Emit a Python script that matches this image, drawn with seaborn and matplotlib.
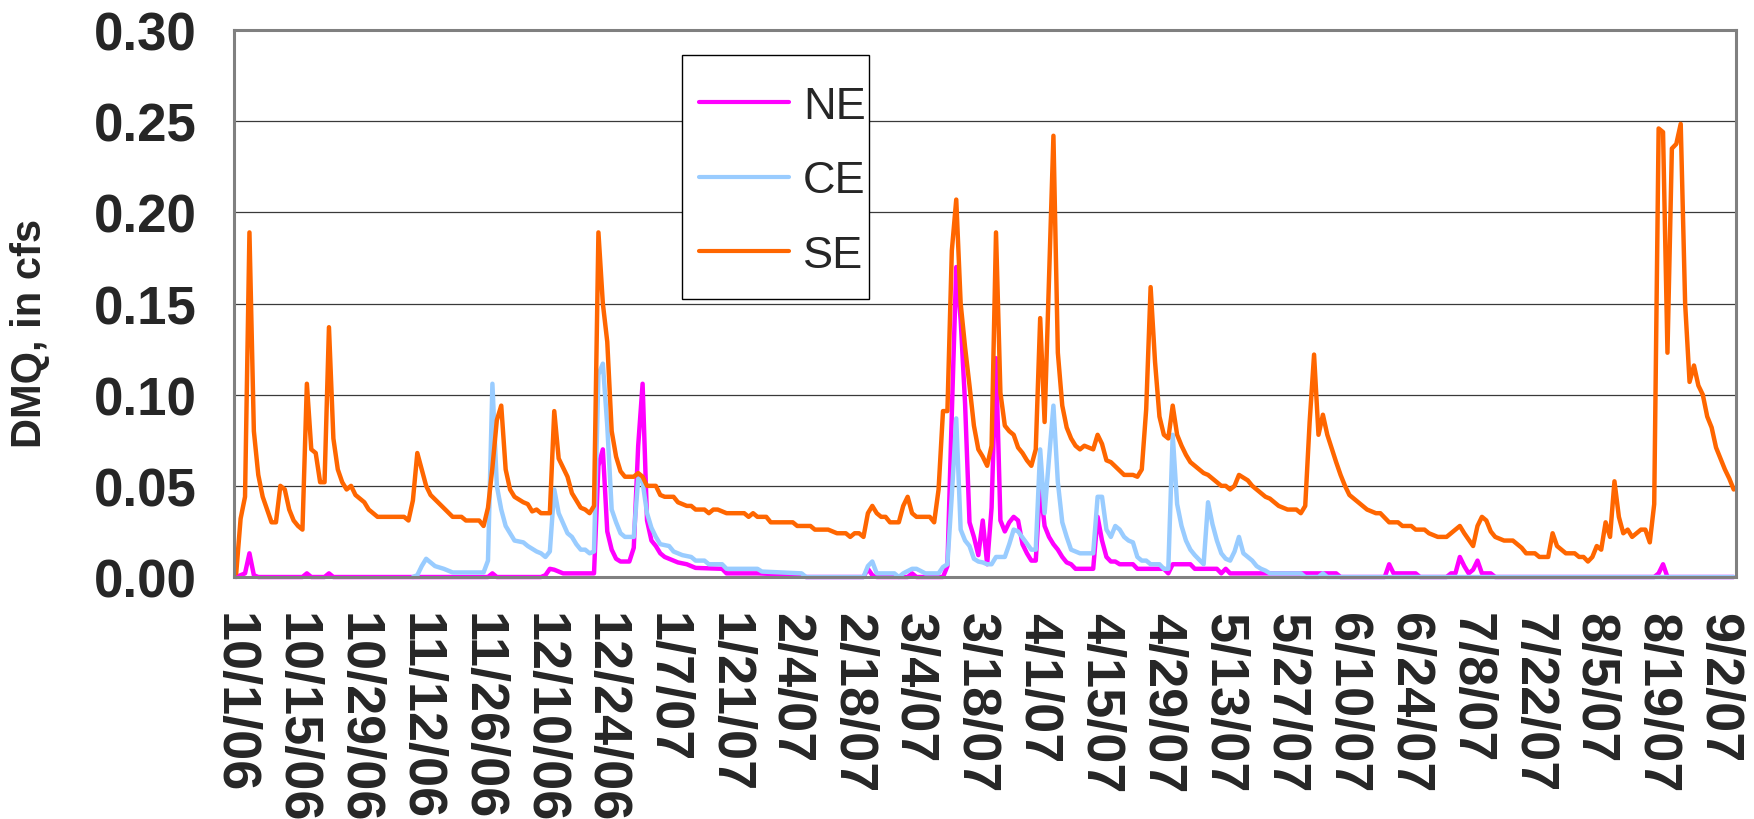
import numpy as np
import pandas as pd
import matplotlib
matplotlib.use('Agg')
import matplotlib.pyplot as plt
import matplotlib.dates as mdates
from matplotlib.patches import Rectangle
from matplotlib.ticker import FormatStrFormatter
import seaborn as sns

# daily DMQ values, day = days after 10/1/06
start = pd.Timestamp('2006-10-01')

ne_days = [0, 2, 3, 4, 5, 15, 16, 17, 20, 21, 22, 57, 58, 59, 69, 70, 71, 72, 73, 74,
           81, 82, 83, 84, 85, 86, 87, 89, 90, 91, 92, 93, 94, 95, 96, 97, 99, 100, 102, 104,
           110, 111, 118, 128, 129, 142, 143, 144, 145, 152, 153, 154, 160, 161, 162, 163, 164, 165, 166, 167,
           168, 169, 170, 171, 172, 173, 174, 175, 176, 177, 178, 179, 180, 181, 182, 183, 184, 185, 186, 187,
           188, 189, 190, 194, 195, 196, 197, 198, 199, 200, 203, 204, 210, 211, 212, 216, 217, 222, 223, 224,
           225, 249, 250, 260, 261, 262, 267, 268, 274, 275, 276, 277, 278, 279, 280, 281, 282, 284, 285, 321,
           322, 323, 324, 339]
ne_vals = [0.0, 0.002, 0.013, 0.001, 0.0, 0.0, 0.002, 0.0, 0.0, 0.002, 0.0, 0.0, 0.002, 0.0, 0.0, 0.001, 0.0045, 0.004, 0.003, 0.002,
           0.002, 0.061, 0.070, 0.025, 0.015, 0.010, 0.0085, 0.0085, 0.016, 0.072, 0.106, 0.031, 0.020, 0.017, 0.013, 0.011, 0.009, 0.008, 0.007, 0.005,
           0.0045, 0.002, 0.002, 0.001, 0.0, 0.0, 0.0045, 0.001, 0.0, 0.0, 0.002, 0.0, 0.0, 0.006, 0.090, 0.170, 0.141, 0.095, 0.030, 0.022,
           0.012, 0.031, 0.007, 0.038, 0.120, 0.031, 0.025, 0.030, 0.033, 0.031, 0.018, 0.013, 0.009, 0.009, 0.050, 0.028, 0.022, 0.018, 0.015, 0.011,
           0.008, 0.007, 0.0045, 0.0045, 0.033, 0.020, 0.011, 0.0085, 0.0085, 0.007, 0.007, 0.0045, 0.0045, 0.002, 0.007, 0.007, 0.0045, 0.0045, 0.002, 0.0045,
           0.002, 0.002, 0.0, 0.0, 0.007, 0.002, 0.002, 0.0, 0.0, 0.002, 0.002, 0.011, 0.006, 0.002, 0.004, 0.009, 0.002, 0.002, 0.0, 0.0,
           0.002, 0.007, 0.0, 0.0]

ce_days = [40, 41, 42, 43, 44, 45, 47, 49, 56, 57, 58, 59, 60, 61, 63, 65, 66, 68, 69, 70,
           71, 72, 73, 75, 76, 77, 78, 79, 80, 81, 82, 83, 84, 85, 86, 87, 88, 90, 91, 92,
           93, 94, 95, 96, 98, 99, 101, 103, 104, 106, 107, 110, 111, 118, 119, 128, 129, 142, 143, 144,
           145, 149, 150, 151, 153, 154, 156, 159, 160, 161, 162, 163, 164, 165, 166, 167, 168, 169, 170, 171,
           172, 174, 175, 176, 177, 180, 181, 182, 183, 184, 185, 186, 187, 188, 189, 191, 194, 195, 196, 197,
           198, 199, 200, 201, 202, 203, 204, 205, 206, 207, 209, 210, 211, 212, 213, 214, 215, 216, 217, 219,
           220, 221, 222, 223, 224, 225, 226, 227, 228, 230, 231, 232, 233, 234, 241, 242, 245, 246, 247, 339]
ce_vals = [0.0, 0.001, 0.006, 0.010, 0.008, 0.006, 0.0045, 0.0025, 0.0025, 0.009, 0.106, 0.050, 0.037, 0.028, 0.020, 0.019, 0.017, 0.014, 0.013, 0.011,
           0.014, 0.048, 0.035, 0.024, 0.022, 0.018, 0.015, 0.015, 0.013, 0.014, 0.111, 0.117, 0.083, 0.037, 0.030, 0.024, 0.022, 0.022, 0.054, 0.052,
           0.035, 0.027, 0.022, 0.018, 0.017, 0.014, 0.012, 0.011, 0.009, 0.009, 0.007, 0.007, 0.0045, 0.0045, 0.003, 0.002, 0.0, 0.0, 0.006, 0.0085,
           0.002, 0.002, 0.0, 0.002, 0.0045, 0.0045, 0.002, 0.002, 0.0055, 0.007, 0.045, 0.087, 0.026, 0.020, 0.017, 0.010, 0.0085, 0.008, 0.007, 0.007,
           0.011, 0.011, 0.018, 0.026, 0.025, 0.015, 0.015, 0.070, 0.035, 0.065, 0.094, 0.052, 0.030, 0.022, 0.015, 0.013, 0.013, 0.044, 0.044, 0.026,
           0.022, 0.028, 0.026, 0.022, 0.020, 0.019, 0.011, 0.009, 0.009, 0.007, 0.007, 0.0045, 0.0045, 0.078, 0.040, 0.028, 0.020, 0.015, 0.012, 0.007,
           0.041, 0.029, 0.020, 0.013, 0.010, 0.009, 0.014, 0.022, 0.013, 0.009, 0.006, 0.0045, 0.0035, 0.002, 0.002, 0.0, 0.0, 0.002, 0.0, 0.0]

se_days = [0, 1, 2, 3, 4, 5, 6, 7, 8, 9, 10, 11, 12, 13, 14, 15, 16, 17, 18, 19,
           20, 21, 22, 23, 24, 25, 26, 27, 28, 29, 30, 31, 32, 38, 39, 40, 41, 42, 43, 44,
           49, 51, 52, 55, 56, 57, 58, 59, 60, 61, 62, 63, 65, 66, 67, 68, 69, 71, 72, 73,
           75, 76, 77, 78, 79, 80, 81, 82, 83, 84, 85, 86, 87, 88, 90, 91, 92, 93, 95, 96,
           97, 99, 100, 102, 103, 104, 106, 107, 108, 109, 111, 115, 116, 117, 118, 120, 121, 126, 127, 130,
           131, 134, 136, 138, 139, 140, 141, 142, 143, 144, 145, 146, 147, 148, 150, 151, 152, 153, 154, 157,
           158, 159, 160, 161, 162, 163, 164, 165, 166, 167, 168, 169, 170, 171, 172, 173, 174, 175, 176, 177,
           178, 179, 180, 181, 182, 183, 184, 185, 186, 187, 188, 189, 190, 191, 192, 194, 195, 196, 197, 198,
           201, 203, 204, 205, 206, 207, 208, 209, 210, 211, 212, 213, 214, 215, 216, 219, 220, 221, 223, 224,
           225, 226, 227, 229, 230, 231, 233, 234, 236, 238, 240, 241, 242, 243, 244, 245, 246, 247, 249, 250,
           251, 252, 254, 256, 258, 259, 261, 263, 264, 266, 267, 269, 270, 272, 274, 277, 278, 280, 281, 282,
           283, 284, 285, 287, 289, 291, 292, 294, 295, 297, 298, 299, 301, 303, 304, 305, 306, 307, 308, 309,
           310, 311, 312, 313, 314, 315, 316, 317, 318, 319, 320, 321, 322, 323, 324, 325, 326, 327, 328, 329,
           330, 331, 332, 333, 334, 335, 336, 337, 338, 339]
se_vals = [0.002, 0.032, 0.044, 0.189, 0.080, 0.056, 0.044, 0.037, 0.030, 0.030, 0.050, 0.048, 0.037, 0.031, 0.028, 0.026, 0.106, 0.070, 0.068, 0.052,
           0.052, 0.137, 0.076, 0.059, 0.052, 0.048, 0.050, 0.045, 0.043, 0.041, 0.037, 0.035, 0.033, 0.033, 0.031, 0.042, 0.068, 0.059, 0.050, 0.045,
           0.033, 0.033, 0.031, 0.031, 0.028, 0.038, 0.060, 0.086, 0.094, 0.059, 0.048, 0.044, 0.041, 0.040, 0.036, 0.037, 0.035, 0.035, 0.091, 0.065,
           0.055, 0.046, 0.042, 0.038, 0.037, 0.035, 0.039, 0.189, 0.150, 0.129, 0.080, 0.066, 0.058, 0.055, 0.055, 0.057, 0.055, 0.050, 0.050, 0.045,
           0.044, 0.044, 0.041, 0.039, 0.039, 0.037, 0.037, 0.035, 0.037, 0.037, 0.035, 0.035, 0.033, 0.035, 0.033, 0.033, 0.030, 0.030, 0.028, 0.028,
           0.026, 0.026, 0.024, 0.024, 0.022, 0.024, 0.024, 0.022, 0.035, 0.039, 0.035, 0.033, 0.033, 0.030, 0.030, 0.039, 0.044, 0.035, 0.033, 0.033,
           0.030, 0.048, 0.091, 0.091, 0.179, 0.207, 0.150, 0.126, 0.105, 0.083, 0.070, 0.066, 0.061, 0.072, 0.189, 0.101, 0.083, 0.080, 0.078, 0.071,
           0.068, 0.064, 0.061, 0.070, 0.142, 0.085, 0.163, 0.242, 0.123, 0.094, 0.082, 0.076, 0.072, 0.070, 0.072, 0.070, 0.078, 0.073, 0.064, 0.063,
           0.056, 0.056, 0.055, 0.059, 0.092, 0.159, 0.118, 0.088, 0.078, 0.076, 0.094, 0.078, 0.072, 0.067, 0.063, 0.057, 0.056, 0.054, 0.050, 0.050,
           0.048, 0.050, 0.056, 0.053, 0.050, 0.048, 0.044, 0.043, 0.039, 0.037, 0.037, 0.035, 0.039, 0.085, 0.122, 0.078, 0.089, 0.078, 0.063, 0.056,
           0.050, 0.045, 0.041, 0.037, 0.035, 0.035, 0.030, 0.030, 0.028, 0.028, 0.026, 0.026, 0.024, 0.022, 0.022, 0.028, 0.024, 0.017, 0.028, 0.033,
           0.031, 0.025, 0.022, 0.020, 0.020, 0.016, 0.013, 0.013, 0.011, 0.011, 0.024, 0.017, 0.013, 0.013, 0.011, 0.011, 0.0085, 0.011, 0.017, 0.015,
           0.030, 0.022, 0.0525, 0.033, 0.024, 0.026, 0.022, 0.024, 0.026, 0.026, 0.019, 0.040, 0.246, 0.244, 0.123, 0.235, 0.2375, 0.2485, 0.150, 0.107,
           0.116, 0.105, 0.100, 0.088, 0.082, 0.071, 0.065, 0.059, 0.054, 0.048]

sites = ['NE', 'CE', 'SE']
colors = ['#FF00FF', '#99CCFF', '#FF6600']

frames = []
for site, days, vals in [('NE', ne_days, ne_vals), ('CE', ce_days, ce_vals), ('SE', se_days, se_vals)]:
    frames.append(pd.DataFrame({'site': site, 'day': days, 'dmq': vals}))
df = pd.concat(frames, ignore_index=True)
# excel puts each daily value in the middle of its day slot
df['date'] = start + pd.to_timedelta(df['day'], unit='D') + pd.Timedelta(hours=12)

sns.set_style('white')
plt.rcParams['font.family'] = ['Liberation Sans', 'DejaVu Sans']

fig, ax = plt.subplots(figsize=(17.54, 8.2), dpi=100)
fig.subplots_adjust(left=0.1334, right=0.9897, top=0.9622, bottom=0.2951)

sns.lineplot(data=df, x='date', y='dmq', hue='site', hue_order=sites, palette=colors,
             estimator=None, linewidth=3.2, ax=ax, clip_on=False)

ticks = pd.date_range(start, periods=25, freq='14D')
ax.set_xlim(mdates.date2num(start), mdates.date2num(start + pd.Timedelta(days=340)))
ax.set_xticks(mdates.date2num(ticks.to_pydatetime()))
ax.set_xticklabels([f'{d.month}/{d.day}/{d:%y}' for d in ticks], rotation=-90,
                   fontsize=39, fontweight='bold')
ax.set_ylim(0, 0.30)
ax.set_yticks(np.arange(0, 0.301, 0.05))
ax.yaxis.set_major_formatter(FormatStrFormatter('%.2f'))
for lab in ax.get_yticklabels():
    lab.set_fontsize(38)
    lab.set_fontweight('bold')

ax.set_xlabel('')
ax.set_ylabel('DMQ, in cfs', fontsize=30, fontweight='bold')
ax.yaxis.set_label_coords(-0.1225, 0.448)

ax.yaxis.grid(True, color='#3a3a3a', linewidth=0.9)
ax.xaxis.grid(False)
ax.set_axisbelow(True)
for s in ax.spines.values():
    s.set_color('#808080')
    s.set_linewidth(2.2)
ax.tick_params(axis='both', direction='out', length=13, width=1, color='#555555')
ax.tick_params(axis='y', pad=14)
ax.tick_params(axis='x', pad=12)

# legend box drawn separately so its padding can match the excel one
ax.add_patch(Rectangle((0.298, 0.508), 0.125, 0.446, transform=ax.transAxes,
                       facecolor='white', edgecolor='black', linewidth=1.0,
                       zorder=4, clip_on=False))
handles, labels = ax.get_legend_handles_labels()
leg = ax.legend(handles, labels, loc='upper left', bbox_to_anchor=(0.3096, 0.8976),
                borderaxespad=0, borderpad=0, frameon=False,
                fontsize=32.5, handlelength=2.0, handletextpad=0.3, labelspacing=0.74)
leg.set_zorder(5)
for h in leg.legend_handles:
    h.set_linewidth(3.0)

fig.savefig('out.png', dpi=100)
